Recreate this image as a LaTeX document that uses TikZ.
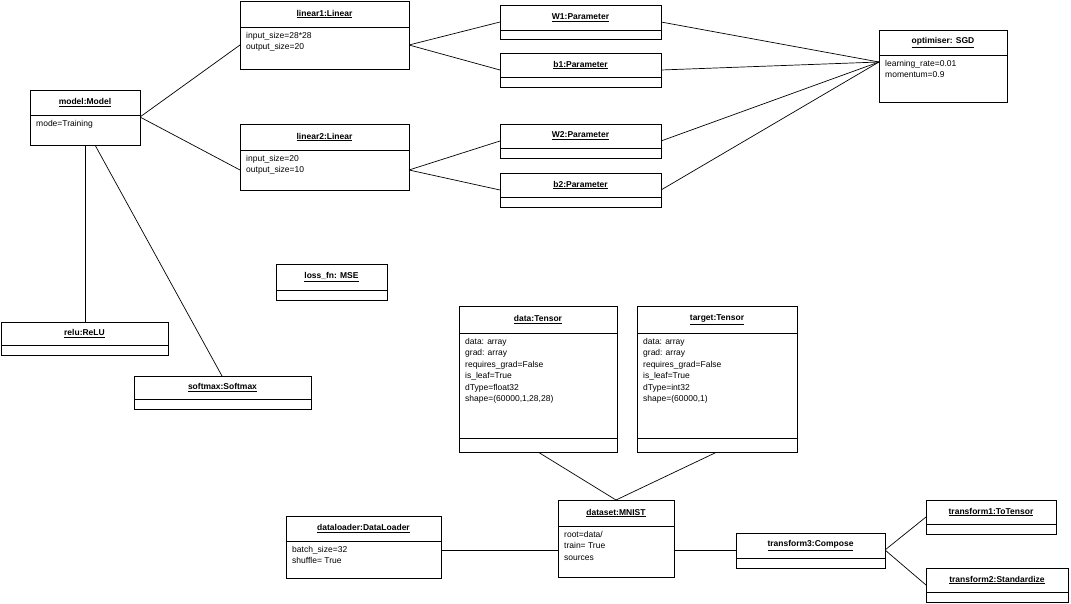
\documentclass[tikz,border=0pt]{standalone}
\usepackage{fontspec}
\setmainfont{Liberation Sans}
\begin{document}
\begin{tikzpicture}[x=1pt,y=-1pt,
  box/.style={draw,line width=0.9pt,fill=white,inner sep=0pt,anchor=north west},
  ttl/.style={font=\fontsize{8.5}{10}\selectfont\bfseries,inner sep=0pt},
  att/.style={font=\fontsize{8.5}{11.5}\selectfont,align=left,anchor=north west,inner sep=0pt},
  ln/.style={line width=0.7pt}]
\useasboundingbox (0,0) rectangle (1071,604);
% \obj{name}{x1}{y1}{x2}{y2}{div}{title}{attrs}{div2}
\newcommand{\objbox}[9]{%
  \node[box,minimum width=#4-#2,minimum height=#5-#3] (#1) at (#2,#3) {};
  \draw[line width=0.9pt] (#2,#6) -- (#4,#6);
  \node[ttl] (#1-t) at ({(#2+#4)/2},{(#3+#6)/2}) {\underline{#7}};
  \node[att] (#1-a) at (#2+6,#6+5) {#8};
  \ifx\relax#9\relax\else\draw[line width=0.9pt] (#2,#9) -- (#4,#9);\fi}
% connectors first (under boxes)
\begin{scope}[ln]
\coordinate (mR) at (140,117); \coordinate (l1L) at (240,45); \coordinate (l2L) at (240,170);
\draw (mR) -- (l1L); \draw (mR) -- (l2L);
\draw (409,45) -- (500,22); \draw (409,45) -- (500,70);
\draw (409,170) -- (500,141); \draw (409,170) -- (500,190);
\coordinate (opL) at (879,62);
\draw (661,22) -- (opL); \draw (661,70) -- (opL); \draw (661,141) -- (opL); \draw (661,190) -- (opL);
\draw (85,145) -- (85,322);
\draw (95,145) -- (222,376);
\draw (538,452) -- (616,500); \draw (717,452) -- (616,500);
\draw (441,550) -- (558,550);
\draw (674,550) -- (736,550);
\draw (885,550) -- (926,517); \draw (885,550) -- (926,585);
\end{scope}
\objbox{model}{30}{90}{140}{145}{115}{model:Model}{mode=Training}{}
\objbox{linear1}{240}{1}{409}{69}{27}{linear1:Linear}{input\_size=28*28\\output\_size=20}{}
\objbox{linear2}{240}{124}{409}{190}{150}{linear2:Linear}{input\_size=20\\output\_size=10}{}
\objbox{W1}{500}{5}{661}{39}{30}{W1:Parameter}{}{}
\objbox{b1}{500}{53}{661}{87}{77}{b1:Parameter}{}{}
\objbox{W2}{500}{124}{661}{158}{148}{W2:Parameter}{}{}
\objbox{b2}{500}{173}{661}{207}{197}{b2:Parameter}{}{}
\objbox{opt}{879}{30}{1007}{102}{55}{optimiser: SGD}{learning\_rate=0.01\\momentum=0.9}{}
\objbox{loss}{276}{264}{387}{300}{290}{loss\_fn: MSE}{}{}
\objbox{relu}{1}{322}{168}{355}{345}{relu:ReLU}{}{}
\objbox{softmax}{134}{376}{311}{409}{399}{softmax:Softmax}{}{}
\objbox{data}{459}{306}{617}{452}{333}{data:Tensor}{data: array\\grad: array\\requires\_grad=False\\is\_leaf=True\\dType=float32\\shape=(60000,1,28,28)}{438}
\objbox{target}{637}{306}{797}{452}{333}{target:Tensor}{data: array\\grad: array\\requires\_grad=False\\is\_leaf=True\\dType=int32\\shape=(60000,1)}{438}
\objbox{dataset}{558}{500}{674}{577}{526}{dataset:MNIST}{root=data/\\train= True\\sources}{}
\objbox{loader}{286}{516}{441}{578}{541}{dataloader:DataLoader}{batch\_size=32\\shuffle= True}{}
\objbox{tr3}{736}{533}{885}{568}{558}{transform3:Compose}{}{}
\objbox{tr1}{926}{500}{1056}{534}{524}{transform1:ToTensor}{}{}
\objbox{tr2}{926}{568}{1068}{602}{592}{transform2:Standardize}{}{}
\end{tikzpicture}
\end{document}
